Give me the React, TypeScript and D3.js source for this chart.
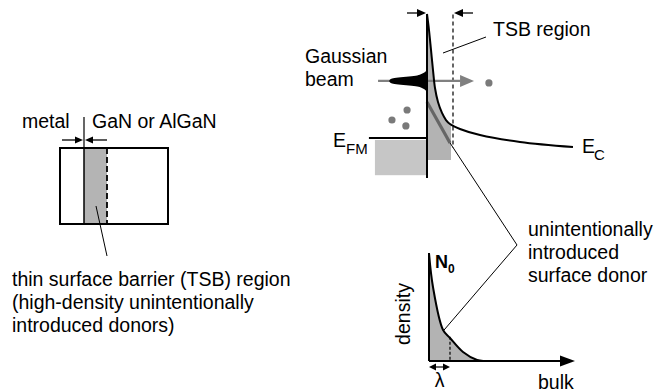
import React from "react";
import * as d3 from "d3";

const W = 665;
const H = 392;

// Conduction-band edge E_C: depth in units of the TSB thickness, energy relative to E_FM
const ecDepth = [0, 0.083, 0.167, 0.25, 0.333, 0.458, 0.625, 0.792, 0.958, 1.375, 2.208, 3.875, 6.083];
const ecEnergy = [1.0, 0.871, 0.71, 0.548, 0.403, 0.29, 0.202, 0.145, 0.113, 0.073, 0.024, -0.032, -0.073];

// Gaussian beam profile: energy offset and penetration into the metal side
const beamOffset = [-0.085, -0.065, -0.048, -0.04, -0.032, -0.024, -0.016, -0.008, 0, 0.008, 0.016, 0.024, 0.032, 0.04, 0.048, 0.065, 0.085];
const beamWidth = [0, 0.12, 0.3, 0.5, 1.0, 1.4, 1.52, 1.56, 1.58, 1.56, 1.52, 1.4, 1.0, 0.5, 0.3, 0.12, 0];
const beamEnergy = 0.46;

// Electrons in the metal and the one that has tunnelled through
const metalElectronDepth = [-0.83, -1.46, -0.88];
const metalElectronEnergy = [0.226, 0.145, 0.097];
const tunnelledDepth = 2.58;

// Surface donor density profile N(x)/N0, depth in units of lambda
const densDepth = [0, 0.19, 0.67, 1, 1.62, 2.29, 2.67, 3.2];
const densValue = [1, 0.685, 0.287, 0.213, 0.083, 0.009, 0, 0];

const font = "'Liberation Sans', Arial, Helvetica, sans-serif";
const fs = 19.5;

function head(tx: number, ty: number, dx: number, dy: number, len: number, half: number) {
  // arrowhead pointing along (dx, dy) with its tip at (tx, ty)
  const bx = tx - dx * len;
  const by = ty - dy * len;
  const px = -dy * half;
  const py = dx * half;
  return `${tx},${ty} ${bx + px},${by + py} ${bx - px},${by - py}`;
}

export default function App() {
  // band diagram scales
  const xB = d3.scaleLinear().domain([-3, 6]).range([355, 571]);
  const yB = d3.scaleLinear().domain([0, 1]).range([138, 14]);
  // density plot scales
  const xD = d3.scaleLinear().domain([0, 1]).range([429, 450]);
  const yD = d3.scaleLinear().domain([0, 1]).range([361, 253]);

  const ec = ecDepth.map((d, i) => [xB(d), yB(ecEnergy[i])] as [number, number]);
  const ecLine = d3.line().curve(d3.curveCatmullRom.alpha(0.5))(ec) || "";

  // TSB shaded region: under E_C down to the bottom of the barrier, out to depth 1
  const tsbPts: [number, number][] = ecDepth
    .map((d, i) => [d, ecEnergy[i]] as [number, number])
    .filter(([d]) => d <= 1);
  const tsbPoly: [number, number][] = [
    ...tsbPts.map(([d, e]) => [xB(d), yB(e)] as [number, number]),
    [xB(1), yB(0.105)],
    [xB(1), yB(-0.177)],
    [xB(0), yB(-0.177)],
  ];
  const tsbPath = d3.line().curve(d3.curveLinear)(tsbPoly) + "Z";

  const beam =
    d3
      .area<number>()
      .curve(d3.curveBasis)
      .y((_, i) => yB(beamEnergy + beamOffset[i]))
      .x0(xB(0))
      .x1((_, i) => xB(-beamWidth[i]))(beamOffset) || "";

  const dens = densDepth.map((d, i) => [xD(d), yD(densValue[i])] as [number, number]);
  const densLine = d3.line().curve(d3.curveCatmullRom.alpha(0.5))(dens) || "";
  const densArea =
    d3
      .area<[number, number]>()
      .curve(d3.curveCatmullRom.alpha(0.5))
      .x((p) => p[0])
      .y0(yD(0))
      .y1((p) => p[1])(dens) || "";

  // leader vertex for the surface-donor label
  const vx = 517;
  const vy = 245;
  const donorStart: [number, number] = [xB(0), yB(0.29)];
  const donorEnd: [number, number] = [xB(0.96), yB(-0.04)];

  const iface = xB(0);
  const dashX = xB(1) + 2;

  // left-hand structure sketch
  const box = { x0: 60, x1: 168, y0: 148, y1: 224, iface: 84, tsb: 107 };

  return (
    <svg
      width={W}
      height={H}
      viewBox={`0 0 ${W} ${H}`}
      style={{ position: "absolute", left: 0, top: 0, background: "#fff", display: "block" }}
      fontFamily={font}
      fontSize={fs}
    >
      <rect x={0} y={0} width={W} height={H} fill="#fff" />

      {/* ---------- left: metal / semiconductor structure ---------- */}
      <text x={22} y={128}>metal</text>
      <text x={92} y={128}>GaN or AlGaN</text>
      <line x1={box.iface} x2={box.iface} y1={117} y2={box.y0} stroke="#000" strokeWidth={1.2} />
      <line x1={62} x2={box.iface - 7} y1={140} y2={140} stroke="#000" strokeWidth={1.3} />
      <polygon points={head(box.iface - 1, 140, 1, 0, 8, 3.5)} fill="#000" />
      <line x1={box.tsb} x2={box.iface + 8} y1={140} y2={140} stroke="#000" strokeWidth={1.3} />
      <polygon points={head(box.iface + 1, 140, -1, 0, 8, 3.5)} fill="#000" />
      <rect x={box.iface} y={box.y0} width={box.tsb - box.iface} height={box.y1 - box.y0} fill="#b4b4b4" />
      <rect x={box.x0} y={box.y0} width={box.x1 - box.x0} height={box.y1 - box.y0} fill="none" stroke="#000" strokeWidth={2} />
      <line x1={box.iface} x2={box.iface} y1={box.y0} y2={box.y1} stroke="#000" strokeWidth={1.5} />
      <line x1={box.tsb} x2={box.tsb} y1={box.y0} y2={box.y1} stroke="#000" strokeWidth={1.8} strokeDasharray="6,3" />
      <line x1={96} y1={206} x2={107} y2={256} stroke="#000" strokeWidth={1} />
      <text x={12} y={286}>thin surface barrier (TSB) region</text>
      <text x={12} y={309}>(high-density unintentionally</text>
      <text x={12} y={332}>introduced donors)</text>

      {/* ---------- right top: band diagram ---------- */}
      {/* metal Fermi sea */}
      <rect x={xB(-2.17)} y={yB(-0.016)} width={iface - xB(-2.17)} height={yB(-0.3) - yB(-0.016)} fill="#c6c6c6" />
      <line x1={xB(-2.42)} x2={iface} y1={yB(0)} y2={yB(0)} stroke="#000" strokeWidth={2} />
      <text x={333} y={147}>E</text>
      <text x={346} y={154} fontSize={15}>FM</text>

      {/* TSB region */}
      <path d={tsbPath} fill="#b3b3b3" />
      <line x1={dashX} x2={dashX} y1={yB(0.995)} y2={yB(-0.08)} stroke="#000" strokeWidth={1.2} strokeDasharray="4,3" />

      {/* tunnelling arrow, then the Gaussian beam over it */}
      <line x1={xB(-2.04)} x2={xB(1.4)} y1={yB(beamEnergy)} y2={yB(beamEnergy)} stroke="#808080" strokeWidth={2.2} />
      <polygon points={head(xB(1.96), yB(beamEnergy), 1, 0, 14, 6)} fill="#808080" />
      <path d={beam} fill="#000" />
      <circle cx={xB(tunnelledDepth)} cy={yB(beamEnergy - 0.016)} r={3.6} fill="#7a7a7a" />

      {metalElectronDepth.map((d, i) => (
        <circle key={i} cx={xB(d)} cy={yB(metalElectronEnergy[i])} r={3.6} fill="#7a7a7a" />
      ))}

      {/* donor level line and leaders */}
      <line x1={donorStart[0]} y1={donorStart[1]} x2={donorEnd[0]} y2={donorEnd[1]} stroke="#666" strokeWidth={3.2} />
      <line x1={donorEnd[0]} y1={donorEnd[1]} x2={vx} y2={vy} stroke="#000" strokeWidth={1} />
      <line x1={vx} y1={vy} x2={dens[2][0] + 1} y2={dens[2][1]} stroke="#000" strokeWidth={1} />

      {/* conduction band edge and interface */}
      <path d={ecLine} fill="none" stroke="#000" strokeWidth={2} />
      <line x1={iface} x2={iface} y1={yB(1.0)} y2={178} stroke="#000" strokeWidth={2} />

      {/* TSB width arrows */}
      <line x1={407} x2={iface - 8} y1={13} y2={13} stroke="#000" strokeWidth={1.3} />
      <polygon points={head(iface - 1, 13, 1, 0, 9, 4)} fill="#000" />
      <line x1={473} x2={dashX + 8} y1={13} y2={13} stroke="#000" strokeWidth={1.3} />
      <polygon points={head(dashX + 1, 13, -1, 0, 9, 4)} fill="#000" />

      <line x1={443} y1={53} x2={486} y2={37} stroke="#000" strokeWidth={1} />
      <text x={493} y={36}>TSB region</text>
      <text x={305} y={63}>Gaussian</text>
      <text x={305} y={86}>beam</text>
      <text x={582} y={153}>E</text>
      <text x={594} y={160} fontSize={15}>C</text>

      {/* ---------- right bottom: donor density profile ---------- */}
      <path d={densArea} fill="#b3b3b3" />
      <line x1={xD(1)} x2={xD(1)} y1={yD(0.225)} y2={yD(0)} stroke="#000" strokeWidth={1.2} strokeDasharray="3,2" />
      <path d={densLine} fill="none" stroke="#000" strokeWidth={2} />
      <line x1={xD(0)} x2={xD(0)} y1={yD(1)} y2={yD(0)} stroke="#000" strokeWidth={2} />
      <line x1={xD(0)} x2={563} y1={yD(0)} y2={yD(0)} stroke="#000" strokeWidth={2} />
      <polygon points={head(575, yD(0), 1, 0, 15, 5.5)} fill="#000" />

      {/* lambda marker */}
      <line x1={xD(0) + 6} x2={xD(1) - 6} y1={367} y2={367} stroke="#000" strokeWidth={1.2} />
      <polygon points={head(xD(0), 367, -1, 0, 7, 3.5)} fill="#000" />
      <polygon points={head(xD(1), 367, 1, 0, 7, 3.5)} fill="#000" />
      <text x={(xD(0) + xD(1)) / 2} y={387} textAnchor="middle">λ</text>

      <text x={435} y={268} fontWeight="bold" fontSize={18}>N</text>
      <text x={448} y={273} fontWeight="bold" fontSize={12}>0</text>
      <text x={0} y={0} textAnchor="middle" transform="translate(410,314) rotate(-90)">density</text>
      <text x={538} y={389}>bulk</text>

      <text x={528} y={236}>unintentionally</text>
      <text x={528} y={259}>introduced</text>
      <text x={528} y={282}>surface donor</text>
    </svg>
  );
}
